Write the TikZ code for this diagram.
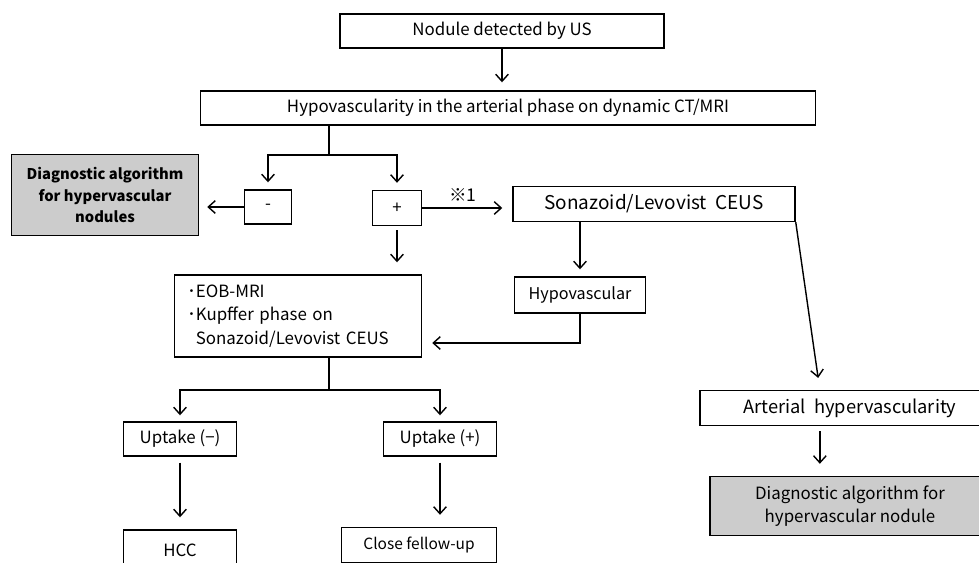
\documentclass[tikz,border=0pt]{standalone}
\usepackage{fontspec}
\setmainfont{Noto Sans CJK JP}
\usetikzlibrary{arrows.meta,calc}
\tikzset{
	flowbox/.style={draw, line width=1pt, inner sep=0pt, minimum height=0.85cm, align=center},
	graybox/.style={flowbox, fill=black!20},
	link/.style={line width=1pt, -{Straight Barb[length=5pt,width=9pt]}},
	plain/.style={line width=1pt}
}
\begin{document}
\begin{tikzpicture}[x=0.025cm, y=-0.025cm, font=\fontsize{12}{16}\selectfont]
	\useasboundingbox (0,0) rectangle (979,563);
	\clip (0,0) rectangle (979,563);
	\node[flowbox, minimum width=8.1cm] (nodule) at (502,31) {Nodule detected by US};
	\node[flowbox, minimum width=15.375cm] (hypo) at (508,108) {Hypovascularity in the arterial phase on dynamic CT/MRI};
	\node[graybox, minimum width=4.675cm, minimum height=2.025cm, font=\fontsize{10.5}{15.5}\selectfont\bfseries] (grayleft) at (105,195) {Diagnostic algorithm\\for hypervascular\\nodules};
	\node[flowbox, minimum width=1.175cm] (neg) at (268,207) {-};
	\node[flowbox, minimum width=1.225cm, minimum height=0.875cm] (pos) at (397,208) {+};
	\node[flowbox, minimum width=7.05cm, minimum height=0.875cm, font=\fontsize{13.5}{16}\selectfont] (ceus) at (654,204) {Sonazoid/Levovist\ \ CEUS};
	\node[flowbox, minimum width=3.275cm, minimum height=0.9cm, font=\fontsize{11.5}{16}\selectfont] (hypovasc) at (580,295) {Hypovascular};
	\node[flowbox, minimum width=6.175cm, minimum height=2.05cm, text width=5.525cm, align=left, font=\fontsize{12}{16.6}\selectfont] (eob) at (298,316) {･EOB-MRI\\･Kupffer phase on\\\phantom{･}Sonazoid/Levovist CEUS};
	\node[flowbox, minimum width=2.825cm] (upneg) at (180,439) {Uptake (−)};
	\node[flowbox, minimum width=2.825cm] (uppos) at (440,439) {Uptake (+)};
	\node[flowbox, minimum width=2.825cm, minimum height=1cm] (hcc) at (180,550) {HCC};
	\node[flowbox, minimum width=3.875cm, minimum height=0.875cm, font=\fontsize{11}{16}\selectfont] (follow) at (419,545) {Close fellow-up};
	\node[flowbox, minimum width=7.5cm, minimum height=0.875cm, font=\fontsize{13}{16}\selectfont] (arterial) at (850,408) {Arterial\ \ hypervascularity};
	\node[graybox, minimum width=7cm, minimum height=1.475cm] (grayright) at (850,506) {Diagnostic algorithm for\\hypervascular nodule};
	\coordinate (split1) at (329,155);
	\coordinate (split2) at (329,390);
	\coordinate (artin) at ($(arterial.north west)!0.4!(arterial.north east)$);
	\coordinate (artout) at ($(arterial.south west)!0.4!(arterial.south east)$);
	\draw[link, shorten >=0.2cm] (nodule.south) -- (nodule.south |- hypo.north);
	\draw[plain] (hypo.south -| split1) -- (split1);
	\draw[link, shorten >=0.175cm] (split1) -| (neg.north);
	\draw[link, shorten >=0.175cm] (split1) -| (pos.north);
	\draw[link, shorten >=0.2cm] (neg.west) -- (grayleft.east |- neg.west);
	\draw[link, shorten >=0.25cm] (pos.east) -- (ceus.west |- pos.east) node[pos=0.45, above=1pt, font=\fontsize{12.5}{15}\selectfont] {※1};
	\draw[link, shorten >=0.175cm] (ceus.south -| hypovasc.north) -- (hypovasc.north);
	\draw[link, shorten <=0.1cm, shorten >=0.3cm] (pos.south) -- (pos.south |- eob.north);
	\draw[link, shorten >=0.25cm] (hypovasc.south) |- ($(eob.east)+(0,27)$);
	\draw[plain] (eob.south -| split2) -- (split2);
	\draw[link, shorten >=0.15cm] (split2) -| (upneg.north);
	\draw[link, shorten >=0.15cm] (split2) -| (uppos.north);
	\draw[link, shorten <=0.15cm, shorten >=0.3cm] (upneg.south) -- (hcc.north);
	\draw[link, shorten <=0.15cm, shorten >=0.3cm] (uppos.south) -- (uppos.south |- follow.north);
	\draw[link, shorten >=0.3cm] (ceus.south east) -- (artin);
	\draw[link, shorten <=0.125cm, shorten >=0.3cm] (artout) -- (artout |- grayright.north);
\end{tikzpicture}
\end{document}
